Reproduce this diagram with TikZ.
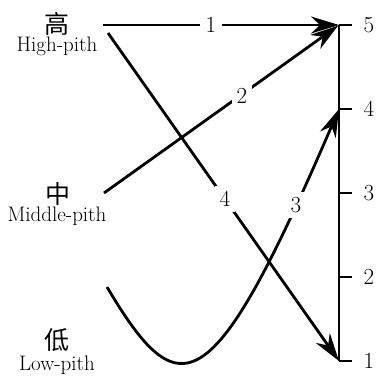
\documentclass[tikz,border=0pt]{standalone}
\usepackage{fontspec}
\newfontfamily\cjk{Noto Sans CJK SC}
\usetikzlibrary{arrows.meta,calc}
\begin{document}
\begin{tikzpicture}[x=1pt,y=-1pt,
  conn/.style={line width=2.8pt},
  arr/.style={conn,-{Stealth[length=28pt,width=17pt,inset=9pt]}},
  lab/.style={fill=white,inner sep=6pt,font=\fontsize{23}{23}\selectfont},
  ticklab/.style={font=\fontsize{23}{23}\selectfont,inner sep=0pt},
  cn/.style={font=\cjk\fontsize{25}{25}\selectfont,inner sep=0pt},
  en/.style={font=\fontsize{21}{21}\selectfont,inner sep=0pt}]
\useasboundingbox (0,0) rectangle (379,376);
% axis points
\coordinate (a5) at (339,25);
\coordinate (a4) at (339,109);
\coordinate (a3) at (339,193);
\coordinate (a2) at (339,277);
\coordinate (a1) at (339,361);
% start points
\coordinate (hiA) at (103,25);
\coordinate (hiB) at (108,33);
\coordinate (mid) at (104,193);
\coordinate (lo) at (107,287);
% axis
\draw[conn] (a5) -- (a1);
\foreach \i in {1,...,5}{
  \draw[conn] (a\i) -- ++(13,0);
  \node[ticklab] (n\i) at ($(a\i)+(30,0)$) {\i};
}
% left labels
\node[cn] (cHi) at (57,24) {高};
\node[en] (eHi) at (57,46) {High-pith};
\node[cn] (cMid) at (58,194) {中};
\node[en] (eMid) at (57,216) {Middle-pith};
\node[cn] (cLo) at (57,340) {低};
\node[en] (eLo) at (57,365) {Low-pith};
% arrows
\draw[arr] (hiA) -- (a5);
\draw[arr,shorten >=1pt] (mid) -- (a5);
\draw[arr] (hiB) -- (a1);
\draw[arr] (lo) .. controls (180,410) and (212,404) .. (a4);
% arrow labels
\node[lab] (l1) at (211,25) {1};
\node[lab,inner sep=5pt] (l2) at (242,96) {2};
\node[lab,inner sep=5pt] (l4) at (225,199) {4};
\node[lab,inner sep=5pt] (l3) at (296,205) {3};
\end{tikzpicture}
\end{document}
